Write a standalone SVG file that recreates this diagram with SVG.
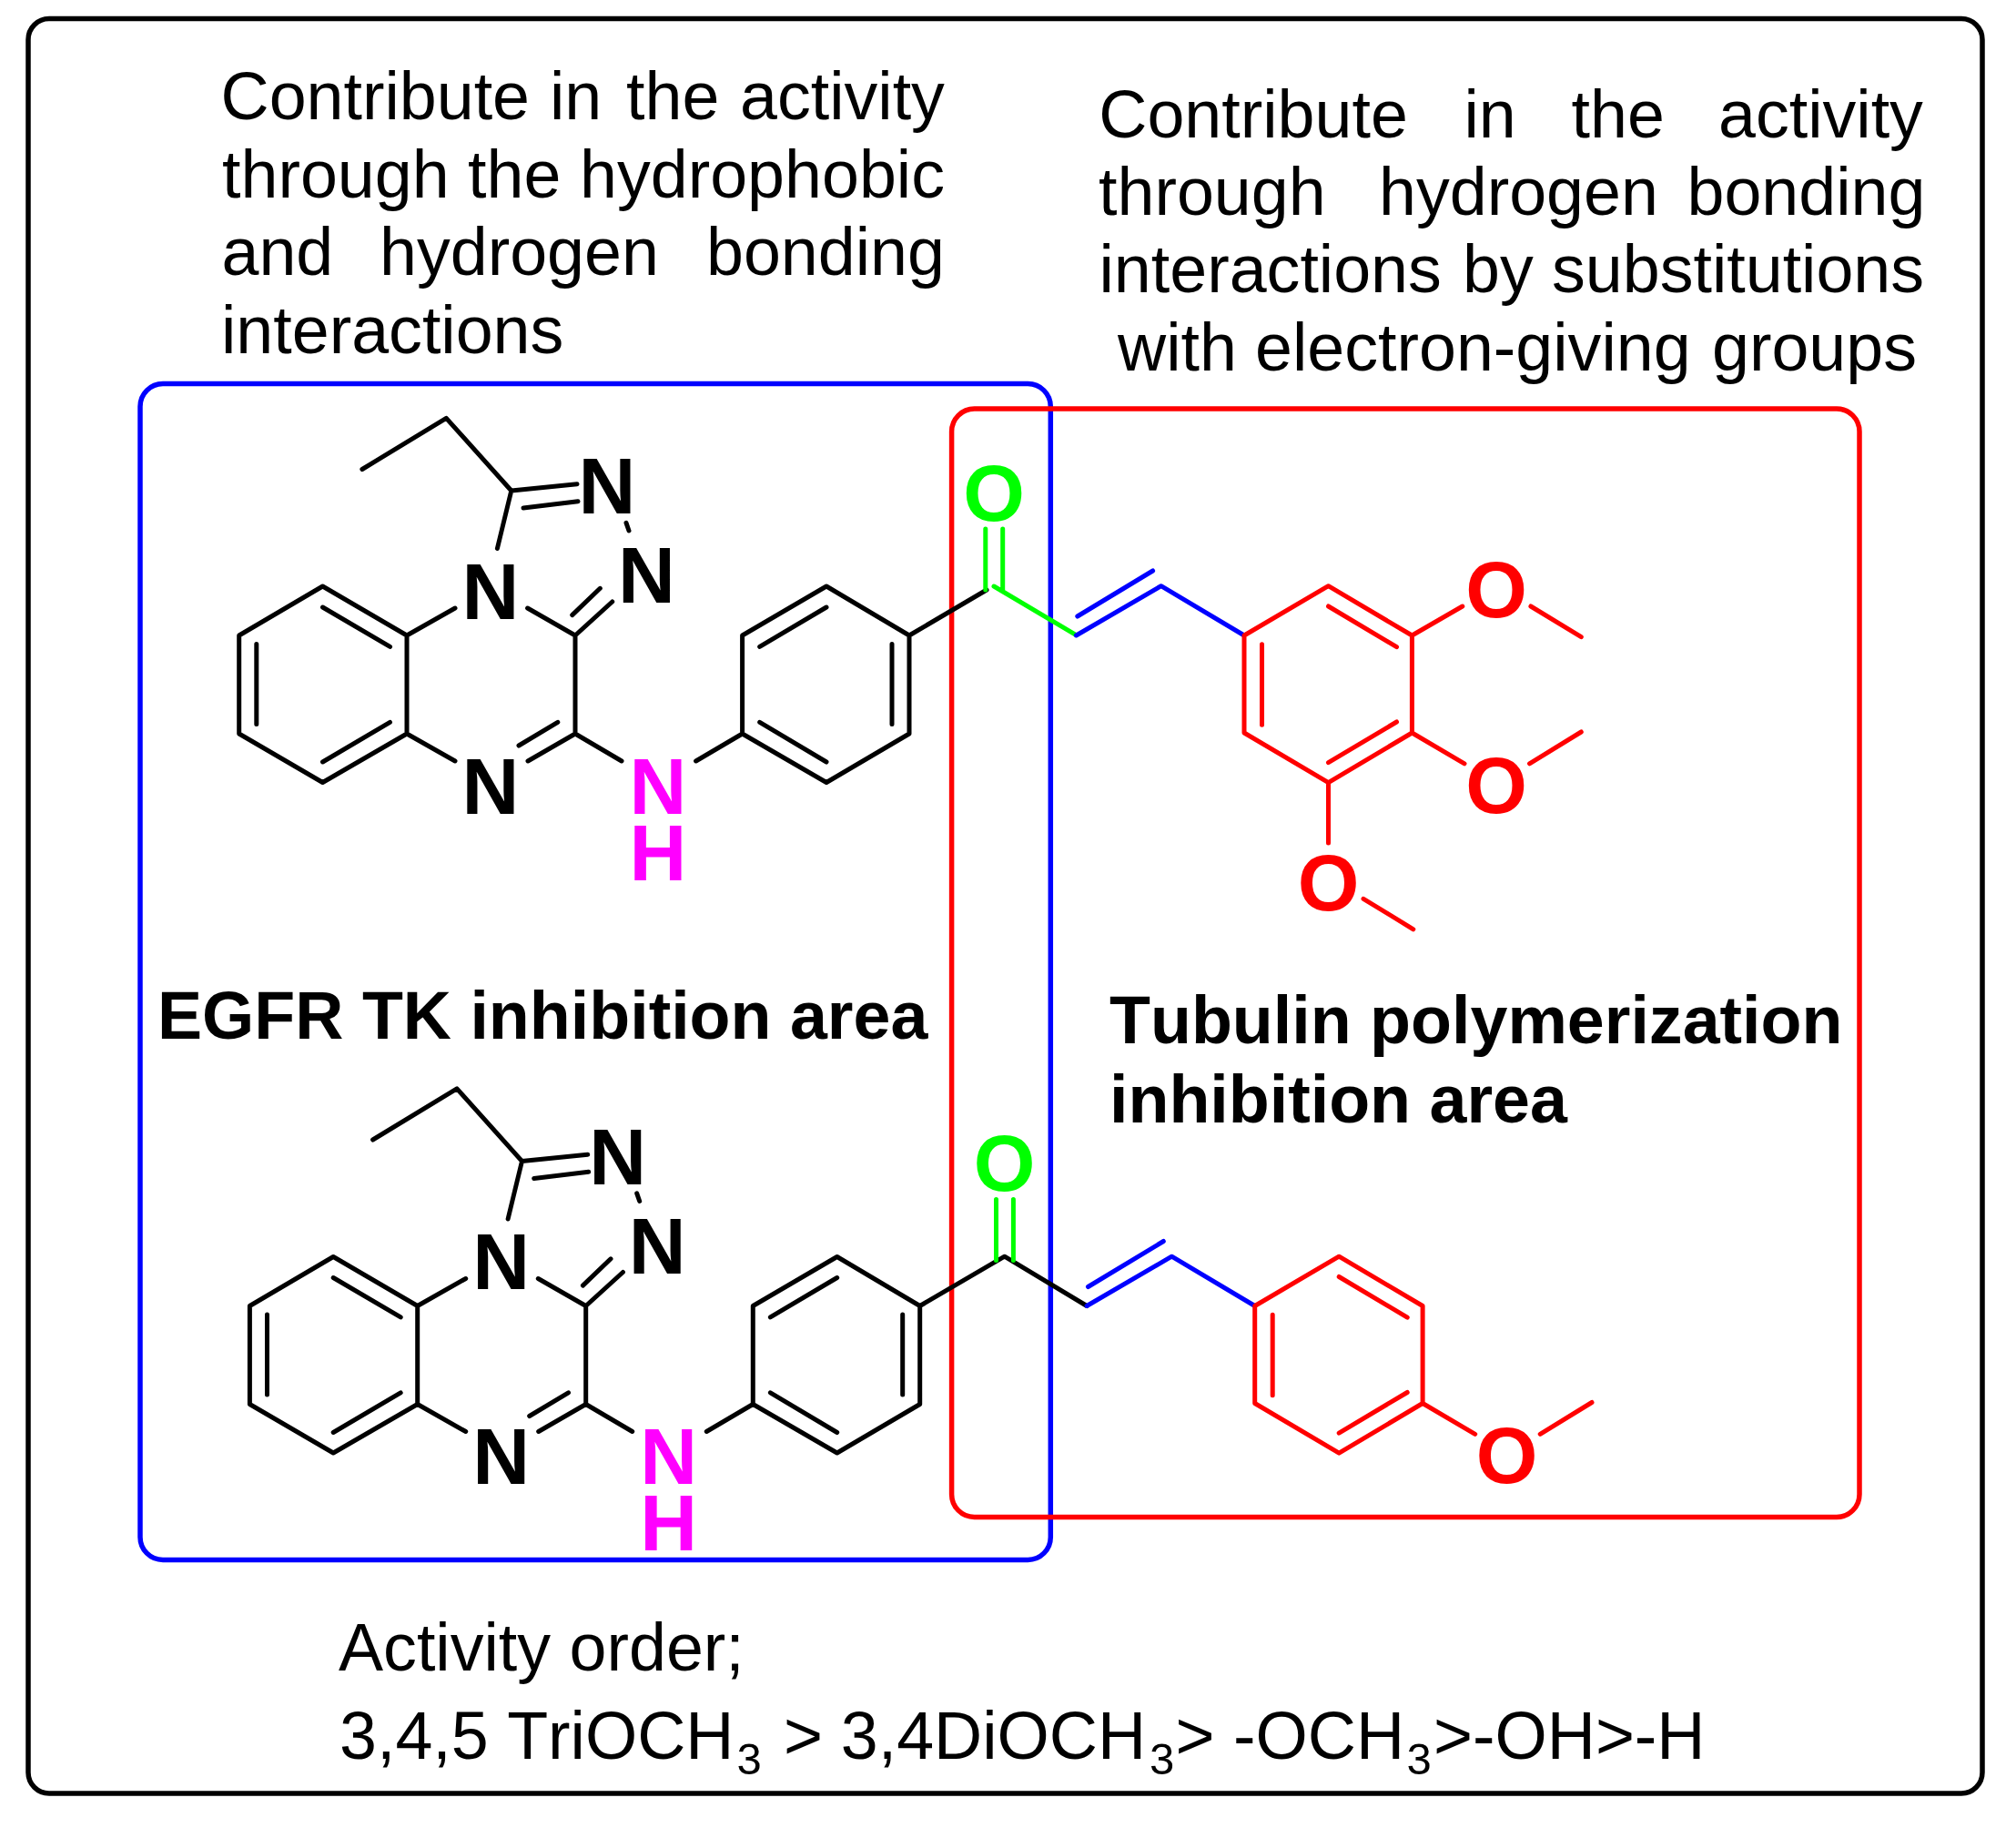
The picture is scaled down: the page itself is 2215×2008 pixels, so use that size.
<svg xmlns="http://www.w3.org/2000/svg" width="2215" height="2008" viewBox="0 0 2215 2008">
<style>
text{font-family:"Liberation Sans",Arial,sans-serif;fill:#000;font-kerning:none}
.t{font-size:73.600px}
.b{font-size:73.600px;font-weight:700}
.a{font-size:87px;font-weight:700;text-anchor:middle}
.s{font-size:49px}
.k,.r,.l,.g{fill:none;stroke-width:5;stroke-linecap:round;stroke-linejoin:round}
.k{stroke:#000}.r{stroke:#f00}.l{stroke:#00f}.g{stroke:#0f0}
.box{fill:none;stroke-width:5.500}
</style>
<rect width="2215" height="2008" fill="#fff"/>
<g id="frame"><rect class="box" x="31" y="20.500" width="2147" height="1949.500" rx="23" ry="23" stroke="#000"/></g>
<g id="note-left"><text class="t" y="130.500"><tspan x="242.500">Contribute</tspan> <tspan x="604">in</tspan> <tspan x="688">the</tspan> <tspan x="813">activity</tspan></text>
<text class="t" y="216.500"><tspan x="244">through</tspan> <tspan x="514">the</tspan> <tspan x="637">hydrophobic</tspan></text>
<text class="t" y="301.500"><tspan x="243.500">and</tspan> <tspan x="417">hydrogen</tspan> <tspan x="776">bonding</tspan></text>
<text class="t" x="243" y="387.500">interactions</text></g>
<g id="note-right"><text class="t" y="150.500"><tspan x="1207.300">Contribute</tspan> <tspan x="1608.400">in</tspan> <tspan x="1726.500">the</tspan> <tspan x="1888">activity</tspan></text>
<text class="t" y="235.500"><tspan x="1207">through</tspan> <tspan x="1515">hydrogen</tspan> <tspan x="1853.500">bonding</tspan></text>
<text class="t" y="321"><tspan x="1207.500">interactions</tspan> <tspan x="1607">by</tspan> <tspan x="1705">substitutions</tspan></text>
<text class="t" y="406.500"><tspan x="1228">with</tspan> <tspan x="1379">electron-giving</tspan> <tspan x="1881">groups</tspan></text></g>
<g id="area-egfr"><rect class="box" x="154" y="421.500" width="1000.300" height="1292" rx="25" ry="25" stroke="#00f"/><text class="b" x="173" y="1141">EGFR TK inhibition area</text></g>
<g id="area-tubulin"><rect class="box" x="1045.600" y="449" width="997.400" height="1217.500" rx="25" ry="25" stroke="#f00"/><text class="b" x="1219" y="1146">Tubulin polymerization</text><text class="b" x="1219" y="1233">inhibition area</text></g>
<g id="connectors">
<g id="bonds-top">
<path class="k" d="M354.500 644L262.700 698V806L354.500 859.500L447 806V698ZM354.500 667L428.500 710.400M281.800 707.600V795.400M428.500 793.400L354.500 837M447 698L500 668M579.600 668L632 698V806M632 698L672.700 661M628.700 675.600L659.300 646.300M447 806L500 836M632 806L580 836M612.800 793.400L570 819M632 806L683 836M764.600 836L815.600 806M815.600 806V698L908 644L999 698V806L908 859.500ZM834.700 710.400L908 667M980 707.600V795.400M834.700 793.400L908 837M397.900 515.500L490.300 459.300L561.800 539L546.400 602.500M561.800 539L634 531.700M575 558L635 550.700M688 574.400L691 583M999 698L1084 648"/>
<path class="g" d="M1082.800 581V648M1101.700 581V648M1092 644L1182.400 697.600"/>
<path class="l" d="M1182.400 698L1275.700 643.700L1367 698M1183.800 677L1266.600 627"/>
<path class="r" d="M1367 698L1459.500 643.700L1551.400 698V805L1459.500 859.600L1367 805ZM1459.500 666L1534.500 710.600M1386.500 707.800V796.300M1534.500 793L1459.500 837.600M1551.400 698L1606.800 666M1681.900 666L1737.300 699.600M1551.400 805L1609 838.800M1680.500 838.800L1737.300 804M1459.500 859.600V926M1498 987.300L1552.800 1020.800"/>
</g>
<g id="bonds-bottom" transform="translate(11.700 736.500)">
<path class="k" d="M354.500 644L262.700 698V806L354.500 859.500L447 806V698ZM354.500 667L428.500 710.400M281.800 707.600V795.400M428.500 793.400L354.500 837M447 698L500 668M579.600 668L632 698V806M632 698L672.700 661M628.700 675.600L659.300 646.300M447 806L500 836M632 806L580 836M612.800 793.400L570 819M632 806L683 836M764.600 836L815.600 806M815.600 806V698L908 644L999 698V806L908 859.500ZM834.700 710.400L908 667M980 707.600V795.400M834.700 793.400L908 837M397.900 515.500L490.300 459.300L561.800 539L546.400 602.500M561.800 539L634 531.700M575 558L635 550.700M688 574.400L691 583M999 698L1092 643.700L1182.400 698"/>
<path class="g" d="M1082.800 581V648M1101.700 581V648"/>
<path class="l" d="M1182.400 698L1275.700 643.700L1367 698M1183.800 677L1266.600 627"/>
<path class="r" d="M1367 698L1459.500 643.700L1551.400 698V805L1459.500 859.600L1367 805ZM1459.500 666L1534.500 710.600M1386.500 707.800V796.300M1534.500 793L1459.500 837.600M1551.400 805L1609 838.800M1680.500 838.800L1737.300 804"/>
</g>
</g>
<g id="molecule-top-atoms">
<text class="a" x="667" y="564">N</text><text class="a" x="710.400" y="662">N</text><text class="a" x="539" y="679.500">N</text><text class="a" x="539" y="893.500">N</text>
<text class="a" x="723" y="893.500" style="fill:#f0f">N</text><text class="a" x="723" y="966.500" style="fill:#f0f">H</text>
<text class="a" x="1092" y="572" style="fill:#0f0">O</text>
<text class="a" x="1644" y="678" style="fill:#f00">O</text><text class="a" x="1644" y="892.500" style="fill:#f00">O</text><text class="a" x="1459.500" y="999.500" style="fill:#f00">O</text>
</g>
<g id="molecule-bottom-atoms">
<text class="a" x="678.700" y="1300.500">N</text><text class="a" x="722.100" y="1398.500">N</text><text class="a" x="550.700" y="1416">N</text><text class="a" x="550.700" y="1630">N</text>
<text class="a" x="734.700" y="1630" style="fill:#f0f">N</text><text class="a" x="734.700" y="1703" style="fill:#f0f">H</text>
<text class="a" x="1103.700" y="1308" style="fill:#0f0">O</text>
<text class="a" x="1655.700" y="1629" style="fill:#f00">O</text>
</g>
<g id="activity-order"><text class="t" x="372" y="1835">Activity order;</text>
<text class="t" x="373" y="1932">3,4,5 TriOCH</text><text class="s" x="809.500" y="1948.500">3</text>
<text class="t" x="861" y="1932">&gt;</text><text class="t" x="923.800" y="1932">3,4DiOCH</text><text class="s" x="1263" y="1948.500">3</text>
<text class="t" x="1291.500" y="1932">&gt;</text><text class="t" x="1355" y="1932">-OCH</text><text class="s" x="1545.500" y="1948.500">3</text>
<text class="t" x="1575" y="1932">&gt;-OH&gt;-H</text></g>
</svg>
